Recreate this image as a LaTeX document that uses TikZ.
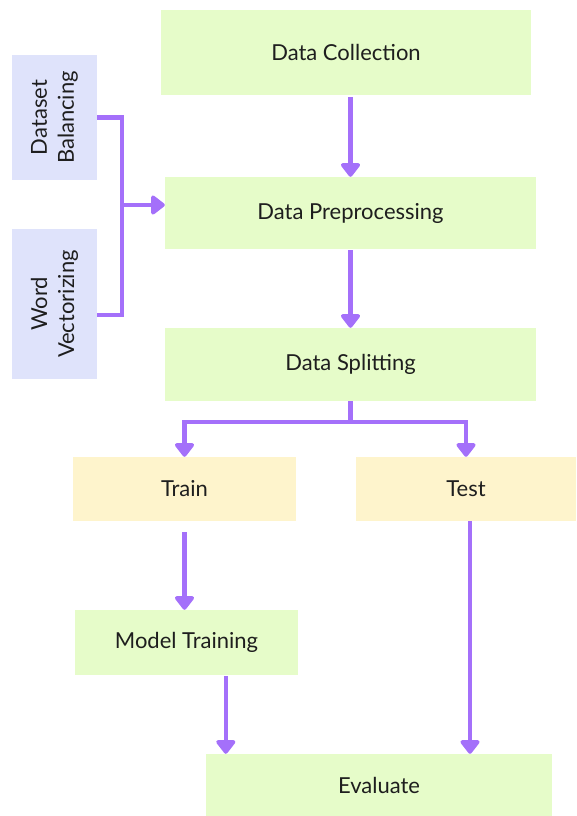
\documentclass[tikz,border=0pt]{standalone}
\usepackage{fontspec}
\setmainfont{Lato}
\usepackage{tikz}
\usetikzlibrary{
    positioning,
    arrows.meta,
    calc
}
\definecolor{stepGreen}{RGB}{230, 252, 201}
\definecolor{stepYellow}{RGB}{254, 244, 204}
\definecolor{stepBlue}{RGB}{223, 227, 251}
\definecolor{flowPurple}{RGB}{164, 112, 250}
\definecolor{textDark}{RGB}{30, 30, 30}

\begin{document}
\begin{tikzpicture}[x=1pt, y=-1pt,
        box/.style={rectangle, draw=none, inner sep=0pt, text=textDark,
            font=\fontsize{22}{27}\selectfont, align=center},
        greenbox/.style={box, fill=stepGreen},
        yellowbox/.style={box, fill=stepYellow},
        bluebox/.style={box, fill=stepBlue, rotate=90},
        link/.style={line width=4.5pt, flowPurple},
        flow/.style={link, -{Triangle[width=22pt, length=15pt, round]}}
    ]
        \useasboundingbox (0,0) rectangle (576,816);

        % Main steps
        \node[greenbox, minimum width=370pt, minimum height=85pt] (collect) at (346,52.5) {Data Collection};
        \node[greenbox, minimum width=371pt, minimum height=72pt] (prep) at (350.5,213) {Data Preprocessing};
        \node[greenbox, minimum width=371pt, minimum height=73pt] (split) at (350.5,364.5) {Data Splitting};

        % Side steps (rotated, so their south side faces right)
        \node[bluebox, minimum width=125pt, minimum height=85pt] (balance) at (54.5,117.5) {Dataset\\Balancing};
        \node[bluebox, minimum width=150pt, minimum height=85pt] (vector) at (54.5,304) {Word\\Vectorizing};

        % Split results
        \node[yellowbox, minimum width=223pt, minimum height=64pt] (train) at (184.5,489) {Train};
        \node[yellowbox, minimum width=220pt, minimum height=64pt] (test) at (466,489) {Test};

        % Training and evaluation
        \node[greenbox, minimum width=223pt, minimum height=65pt] (model) at (186.5,642.5) {Model Training};
        \node[greenbox, minimum width=346pt, minimum height=62pt] (eval) at (379,785) {Evaluate};

        % Connectors
        \draw[flow, shorten <=2pt] (prep.north |- collect.south) -- (prep.north);
        \draw[flow, shorten <=1pt] (prep.south) -- (split.north);

        \coordinate (join) at (122,205);
        \draw[link] (balance.south) -| (join) |- ($(vector.south)+(0,11)$);
        \draw[flow] (join) -- (join -| prep.west);

        \draw[link] (split.south) -- ++(0,21) coordinate (fork);
        \draw[flow] (fork) -| (train.north);
        \draw[flow] (fork) -| (test.north);

        \draw[flow, shorten <=11pt] (train.south) -- (train.south |- model.north);
        \coordinate (mtin) at ($(eval.north west)+(20,0)$);
        \draw[flow, shorten <=1pt] (model.south -| mtin) -- (mtin);
        \coordinate (tsin) at ($(test.south)+(4,0)$);
        \draw[flow] (tsin) -- (tsin |- eval.north);
    \end{tikzpicture}
\end{document}
